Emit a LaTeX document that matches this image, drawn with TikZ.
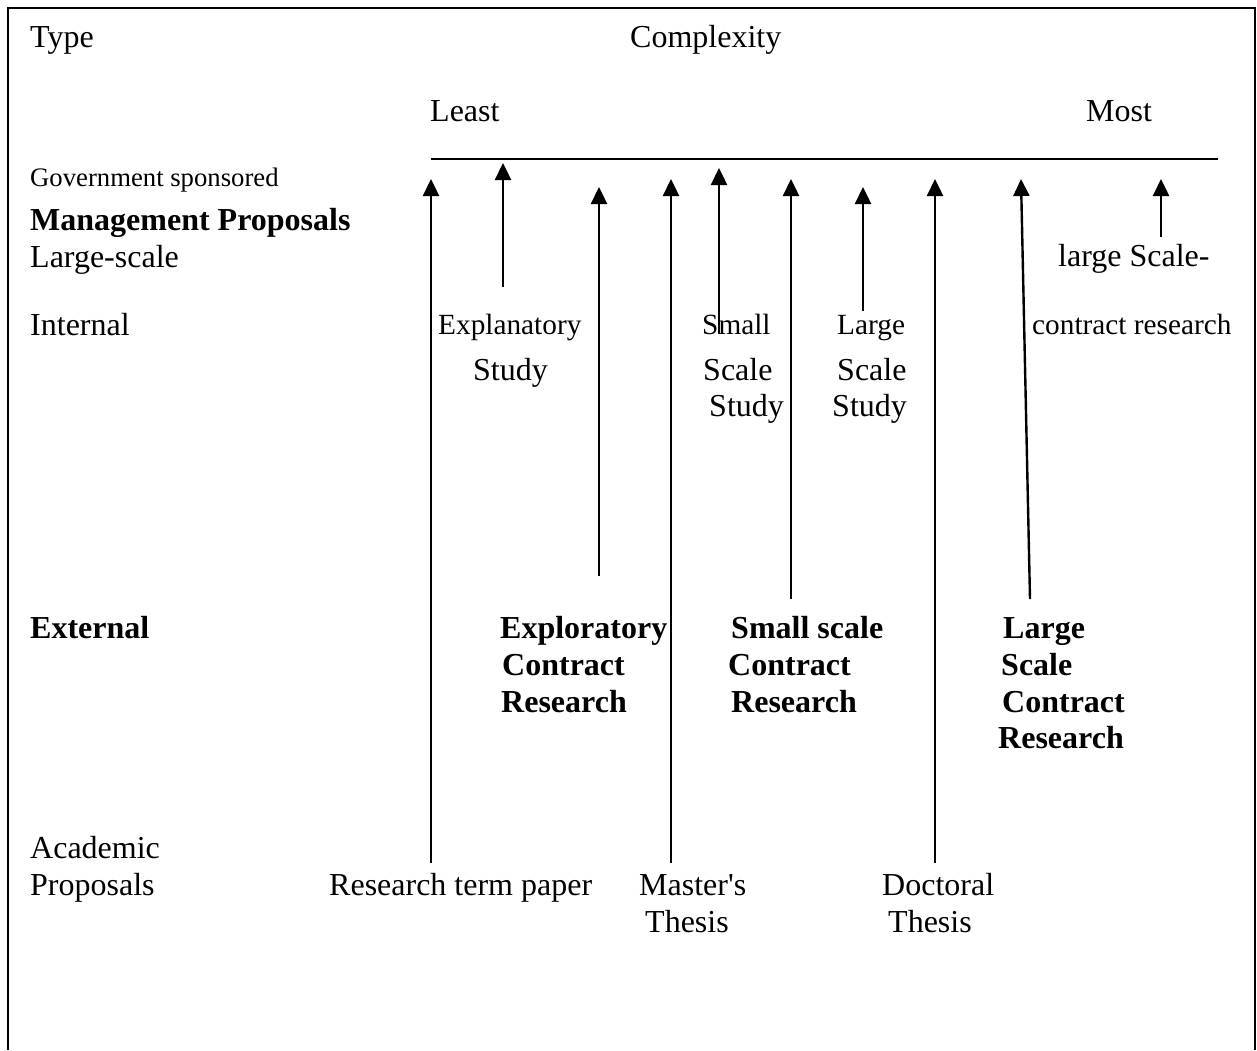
\documentclass[tikz,border=0pt]{standalone}
\usepackage{fontspec}
\setmainfont{Liberation Serif}
\usetikzlibrary{arrows.meta}
\begin{document}
\begin{tikzpicture}[x=1pt,y=-1pt,
  lbl/.style={anchor=base west,inner sep=0pt,font=\fontsize{32}{37}\selectfont},
  sml/.style={anchor=base west,inner sep=0pt,font=\fontsize{29.3}{34}\selectfont},
  tny/.style={anchor=base west,inner sep=0pt,font=\fontsize{26.7}{31}\selectfont},
  bld/.style={anchor=base west,inner sep=0pt,font=\fontsize{32}{37}\selectfont\bfseries},
  arr/.style={line width=2.4pt,-{Triangle[length=17pt,width=16pt]}},
  frame/.style={line width=2pt},
  axis/.style={line width=2.3pt}]
\useasboundingbox (0,0) rectangle (1257,1050);
% frame (open at the bottom)
\draw[frame] (8,1050) -- (8,8) -- (1255,8) -- (1255,1050);

% headings
\node[lbl] (type) at (30,47) {Type};
\node[lbl] (complexity) at (630,47) {Complexity};
\node[lbl] (least) at (430,121) {Least};
\node[lbl] (most) at (1086,121) {Most};

% axis line
\coordinate (axL) at (431,159);
\coordinate (axR) at (1218,159);
\draw[axis] (axL) -- (axR);

% left column
\node[tny] (gov) at (30,186) {Government sponsored};
\node[bld] (mgmt) at (30,230) {Management Proposals};
\node[lbl] (lscale) at (30,267) {Large-scale};
\node[lbl] (internal) at (30,335) {Internal};
\node[bld] (external) at (30,638) {External};
\node[lbl] (acad1) at (30,858) {Academic};
\node[lbl] (acad2) at (30,895) {Proposals};

% internal row
\node[sml] (expl) at (438,334) {Explanatory};
\node[lbl] (explS) at (473,380) {Study};
\node[sml] (small) at (702,334) {Small};
\node[lbl] (smallSc) at (703,380) {Scale};
\node[lbl] (smallSt) at (709,416) {Study};
\node[sml] (large) at (837,334) {Large};
\node[lbl] (largeSc) at (837,380) {Scale};
\node[lbl] (largeSt) at (832,416) {Study};
\node[lbl] (gls) at (1058,266) {large Scale-};
\node[sml] (gcr) at (1032,334) {contract research};

% external row
\node[bld] (ex1) at (500,638) {Exploratory};
\node[bld] (ex2) at (502,675) {Contract};
\node[bld] (ex3) at (501,712) {Research};
\node[bld] (ss1) at (731,638) {Small scale};
\node[bld] (ss2) at (728,675) {Contract};
\node[bld] (ss3) at (731,712) {Research};
\node[bld] (ls1) at (1003,638) {Large};
\node[bld] (ls2) at (1001,675) {Scale};
\node[bld] (ls3) at (1002,712) {Contract};
\node[bld] (ls4) at (998,748) {Research};

% academic row
\node[lbl] (rtp) at (329,895) {Research term paper};
\node[lbl] (mt1) at (639,895) {Master\textquotesingle s};
\node[lbl] (mt2) at (645,932) {Thesis};
\node[lbl] (dt1) at (882,895) {Doctoral};
\node[lbl] (dt2) at (888,932) {Thesis};

% arrow end points
\coordinate (a1s) at (431,863);  \coordinate (a1e) at (431,179);
\coordinate (a2s) at (503,287);  \coordinate (a2e) at (503,163);
\coordinate (a3s) at (599,576);  \coordinate (a3e) at (599,187);
\coordinate (a4s) at (671,863);  \coordinate (a4e) at (671,179);
\coordinate (a5s) at (719,334);  \coordinate (a5e) at (719,168);
\coordinate (a6s) at (791,599);  \coordinate (a6e) at (791,179);
\coordinate (a7s) at (863,311);  \coordinate (a7e) at (863,187);
\coordinate (a8s) at (935,863);  \coordinate (a8e) at (935,179);
\coordinate (a9s) at (1030,599); \coordinate (a9e) at (1021,179);
\coordinate (a10s) at (1161,237); \coordinate (a10e) at (1161,179);

\foreach \i in {1,...,10}{\draw[arr] (a\i s) -- (a\i e);}
\end{tikzpicture}
\end{document}
